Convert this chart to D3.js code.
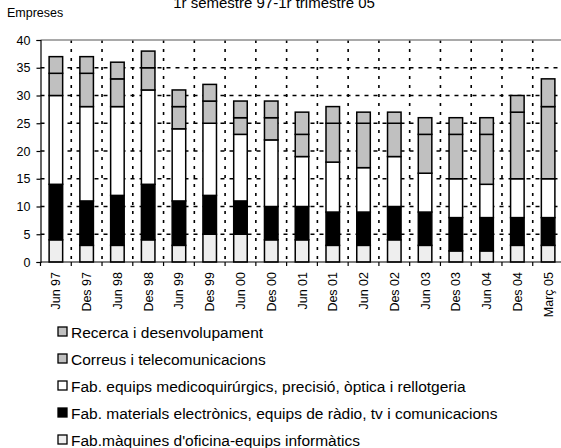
<!DOCTYPE html>
<html>
<head>
<meta charset="utf-8">
<script src="https://cdn.jsdelivr.net/npm/d3@7"></script>
<style>
  html, body { margin: 0; padding: 0; background: #fff; }
  svg { display: block; font-family: Arial, "Liberation Sans", sans-serif; }
</style>
</head>
<body>
<svg id="chart" width="561" height="448"></svg>
<script>
// Periods (semesters, last one a quarter)
const categories = ["Jun 97","Des 97","Jun 98","Des 98","Jun 99","Des 99","Jun 00","Des 00",
  "Jun 01","Des 01","Jun 02","Des 02","Jun 03","Des 03","Jun 04","Des 04","Març 05"];

// Number of firms per sector, stacked bottom to top
const maquinesOficina   = [4,3,3,4,3,5,5,4,4,3,3,4,3,2,2,3,3];
const materialsElectron = [10,8,9,10,8,7,6,6,6,6,6,6,6,6,6,5,5];
const equipsMedico      = [16,17,16,17,13,13,12,12,9,9,8,9,7,7,6,7,7];
const correusTelecom    = [4,6,5,4,4,4,3,4,4,7,8,6,7,8,9,12,13];
const recercaDesenv     = [3,3,3,3,3,3,3,3,4,3,2,2,3,3,3,3,5];

const yTicks = [0,5,10,15,20,25,30,35,40];

const seriesNames = [
  "Fab.màquines d'oficina-equips informàtics",
  "Fab. materials electrònics, equips de ràdio, tv i comunicacions",
  "Fab. equips medicoquirúrgics, precisió, òptica i rellotgeria",
  "Correus i telecomunicacions",
  "Recerca i desenvolupament"
];
const seriesValues = [maquinesOficina, materialsElectron, equipsMedico, correusTelecom, recercaDesenv];
const seriesFills = ["#eeeeee", "#000000", "#ffffff", "#c0c0c0", "#c0c0c0"];

const rows = categories.map((c, i) => {
  const r = { cat: c };
  seriesNames.forEach((s, j) => r[s] = seriesValues[j][i]);
  return r;
});
const stacked = d3.stack().keys(seriesNames)(rows);

const svg = d3.select("#chart");
const plotLeft = 40.5, plotRight = 563.5, plotTop = 40, plotBottom = 262;

const x = d3.scaleBand().domain(categories).range([plotLeft, plotRight])
  .paddingInner(0.56).paddingOuter(0.28);
const y = d3.scaleLinear().domain([0, 40]).range([plotBottom, plotTop]);

const boundary = k => plotLeft + k * x.step();

// Horizontal dashed gridlines
svg.append("g").selectAll("line")
  .data(yTicks.filter(v => v > 0 && v < 40))
  .join("line")
  .attr("x1", plotLeft).attr("x2", 561)
  .attr("y1", d => y(d)).attr("y2", d => y(d))
  .attr("stroke", "#000").attr("stroke-width", 1.4)
  .attr("stroke-dasharray", "4,5");

// Vertical dotted gridlines between periods
svg.append("g").selectAll("line")
  .data(d3.range(1, categories.length))
  .join("line")
  .attr("x1", d => boundary(d)).attr("x2", d => boundary(d))
  .attr("y1", plotTop).attr("y2", plotBottom)
  .attr("stroke", "#000").attr("stroke-width", 1.6)
  .attr("stroke-dasharray", "3,6");

// Top border of the plot area
svg.append("line")
  .attr("x1", plotLeft).attr("x2", 561).attr("y1", y(40)).attr("y2", y(40))
  .attr("stroke", "#8c8c8c").attr("stroke-width", 1.5);

// Stacked bars
svg.append("g").selectAll("g")
  .data(stacked)
  .join("g")
  .attr("fill", (d, i) => seriesFills[i])
  .selectAll("rect")
  .data(d => d)
  .join("rect")
  .attr("x", d => x(d.data.cat))
  .attr("width", x.bandwidth())
  .attr("y", d => y(d[1]))
  .attr("height", d => y(d[0]) - y(d[1]))
  .attr("stroke", "#000").attr("stroke-width", 1.5);

// Y axis
const yAxis = svg.append("g")
  .attr("transform", `translate(${plotLeft},0)`)
  .call(d3.axisLeft(y).tickValues(yTicks).tickSize(4).tickPadding(6).tickFormat(d3.format("d")));
yAxis.select(".domain").attr("stroke", "#000").attr("stroke-width", 1.2);
yAxis.selectAll(".tick line").attr("stroke", "#000").attr("stroke-width", 1.2);
yAxis.selectAll("text").attr("font-size", 12.5).attr("fill", "#000")
  .attr("font-family", "Arial, 'Liberation Sans', sans-serif");

// X axis line and boundary ticks
svg.append("line")
  .attr("x1", plotLeft).attr("x2", 561).attr("y1", plotBottom).attr("y2", plotBottom)
  .attr("stroke", "#000").attr("stroke-width", 1.2);
svg.append("g").selectAll("line")
  .data(d3.range(0, categories.length + 1))
  .join("line")
  .attr("x1", d => boundary(d)).attr("x2", d => boundary(d))
  .attr("y1", plotBottom).attr("y2", plotBottom + 4)
  .attr("stroke", "#000").attr("stroke-width", 1.2);

// Rotated period labels
svg.append("g").selectAll("text")
  .data(categories)
  .join("text")
  .attr("transform", d => `translate(${x(d) + x.bandwidth() / 2 + 4.5},272) rotate(-90)`)
  .attr("text-anchor", "end")
  .attr("font-size", 12.5)
  .text(d => d);

// Axis title and chart subtitle
svg.append("text").attr("x", 7).attr("y", 17).attr("font-size", 12.5).text("Empreses");
svg.append("text").attr("x", 274).attr("y", 8).attr("text-anchor", "middle")
  .attr("font-size", 15).text("1r semestre 97-1r trimestre 05");

// Legend, top entry is the top of the stack
const legendOrder = [4, 3, 2, 1, 0];
const lg = svg.append("g").selectAll("g")
  .data(legendOrder)
  .join("g")
  .attr("transform", (d, i) => `translate(58,${332 + i * 27})`);
lg.append("rect")
  .attr("x", 0).attr("y", -5).attr("width", 9).attr("height", 9)
  .attr("fill", d => seriesFills[d]).attr("stroke", "#000").attr("stroke-width", 1.3);
lg.append("text")
  .attr("x", 13).attr("y", 5.5)
  .attr("font-size", 15.5)
  .text(d => seriesNames[d]);
</script>
</body>
</html>
